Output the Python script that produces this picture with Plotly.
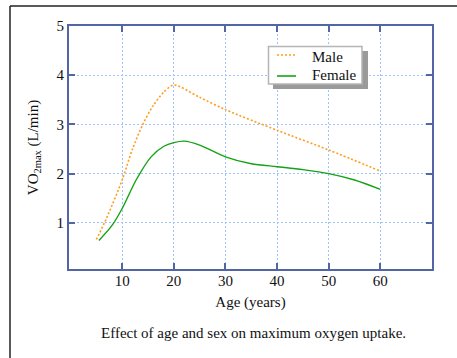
import plotly.graph_objects as go

male_age = [5, 7, 10, 12, 14, 16, 18, 20, 25, 30, 40, 50, 60]
male_vo2 = [0.66, 1.1, 1.87, 2.5, 3.0, 3.38, 3.65, 3.8, 3.55, 3.3, 2.88, 2.48, 2.05]

female_age = [5.5, 8, 10, 12.7, 15.6, 18, 20, 22, 25, 30, 35, 40, 45, 50, 55, 60]
female_vo2 = [0.64, 0.94, 1.29, 1.87, 2.34, 2.55, 2.63, 2.66, 2.58, 2.34, 2.2, 2.14, 2.08, 2.0, 1.87, 1.68]

x_ticks = [10, 20, 30, 40, 50, 60]
y_ticks = [1, 2, 3, 4, 5]

FONT = "Liberation Serif"
AXIS = "#5266a6"
GRID = "#9cc3ff"
MALE_C = "#ff9d1e"
FEMALE_C = "#13a313"

L, R, T, B, W, H = 69, 25, 26, 89, 457, 358
PW, PH = W - L - R, H - T - B


def px(x):
    return (x - L) / PW


def py(y):
    return (H - B - y) / PH


fig = go.Figure()
fig.add_trace(go.Scatter(x=male_age, y=male_vo2, name="Male", mode="lines",
                         line=dict(color=MALE_C, width=1.6, dash="2px,2px", shape="spline", smoothing=0.8)))
fig.add_trace(go.Scatter(x=female_age, y=female_vo2, name="Female", mode="lines",
                         line=dict(color=FEMALE_C, width=1.4, shape="spline", smoothing=0.8)))

axis_common = dict(showline=True, linecolor=AXIS, linewidth=2, mirror="ticks",
                   ticks="inside", ticklen=6, tickwidth=2, tickcolor=AXIS,
                   showgrid=True, gridcolor=GRID, gridwidth=1, griddash="2px,2px",
                   zeroline=False, automargin=False,
                   tickfont=dict(family=FONT, size=15, color="#111"))

fig.update_xaxes(range=[-0.3, 70], tickvals=x_ticks, ticklabelstandoff=-3,
                 title=dict(text="Age (years)", font=dict(family=FONT, size=15, color="#111"), standoff=8),
                 **axis_common)
fig.update_yaxes(range=[0.06, 5], tickvals=y_ticks, ticklabelstandoff=0,
                 title=dict(text="VO<sub>2max</sub> (L/min)", font=dict(family=FONT, size=15, color="#111"), standoff=14),
                 **axis_common)

# legend box (drawn manually to match the reference's compact box with drop shadow)
fig.add_shape(type="rect", xref="paper", yref="paper",
              x0=px(273), x1=px(368), y0=py(89), y1=py(51),
              fillcolor="#9a9a9a", line=dict(width=0), layer="above")
fig.add_shape(type="rect", xref="paper", yref="paper",
              x0=px(268.5), x1=px(362), y0=py(84), y1=py(46.5),
              fillcolor="white", line=dict(color="#b5b5b5", width=1.5), layer="above")
fig.add_shape(type="line", xref="paper", yref="paper",
              x0=px(277), x1=px(296), y0=py(55), y1=py(55),
              line=dict(color=MALE_C, width=1.6, dash="2px,2px"), layer="above")
fig.add_shape(type="line", xref="paper", yref="paper",
              x0=px(277), x1=px(296), y0=py(76), y1=py(76),
              line=dict(color=FEMALE_C, width=1.6), layer="above")
for label, yc in (("Male", 57), ("Female", 75)):
    fig.add_annotation(text=label, xref="paper", yref="paper", x=px(310), y=py(yc),
                       showarrow=False, xanchor="left", yanchor="middle",
                       font=dict(family=FONT, size=15, color="#111"))

# outer frame
fig.add_shape(type="line", xref="paper", yref="paper",
              x0=px(10), x1=px(10), y0=-0.5, y1=py(6),
              line=dict(color="#222", width=1.5))
fig.add_shape(type="line", xref="paper", yref="paper",
              x0=px(10), x1=1.2, y0=py(6), y1=py(6),
              line=dict(color="#222", width=1.5))

fig.add_annotation(text="Effect of age and sex on maximum oxygen uptake.",
                   xref="paper", yref="paper", x=px(253), y=py(333),
                   showarrow=False, xanchor="center", yanchor="middle",
                   font=dict(family=FONT, size=15, color="#111"))

fig.update_layout(
    width=W, height=H,
    margin=dict(l=L, r=R, t=T, b=B, autoexpand=False),
    paper_bgcolor="white", plot_bgcolor="white",
    font=dict(family=FONT, size=15, color="#111"),
    showlegend=False,
)

fig.write_html("out.html", config={"displayModeBar": False},
               post_script="document.body.style.margin='0';document.body.style.overflow='hidden';")
